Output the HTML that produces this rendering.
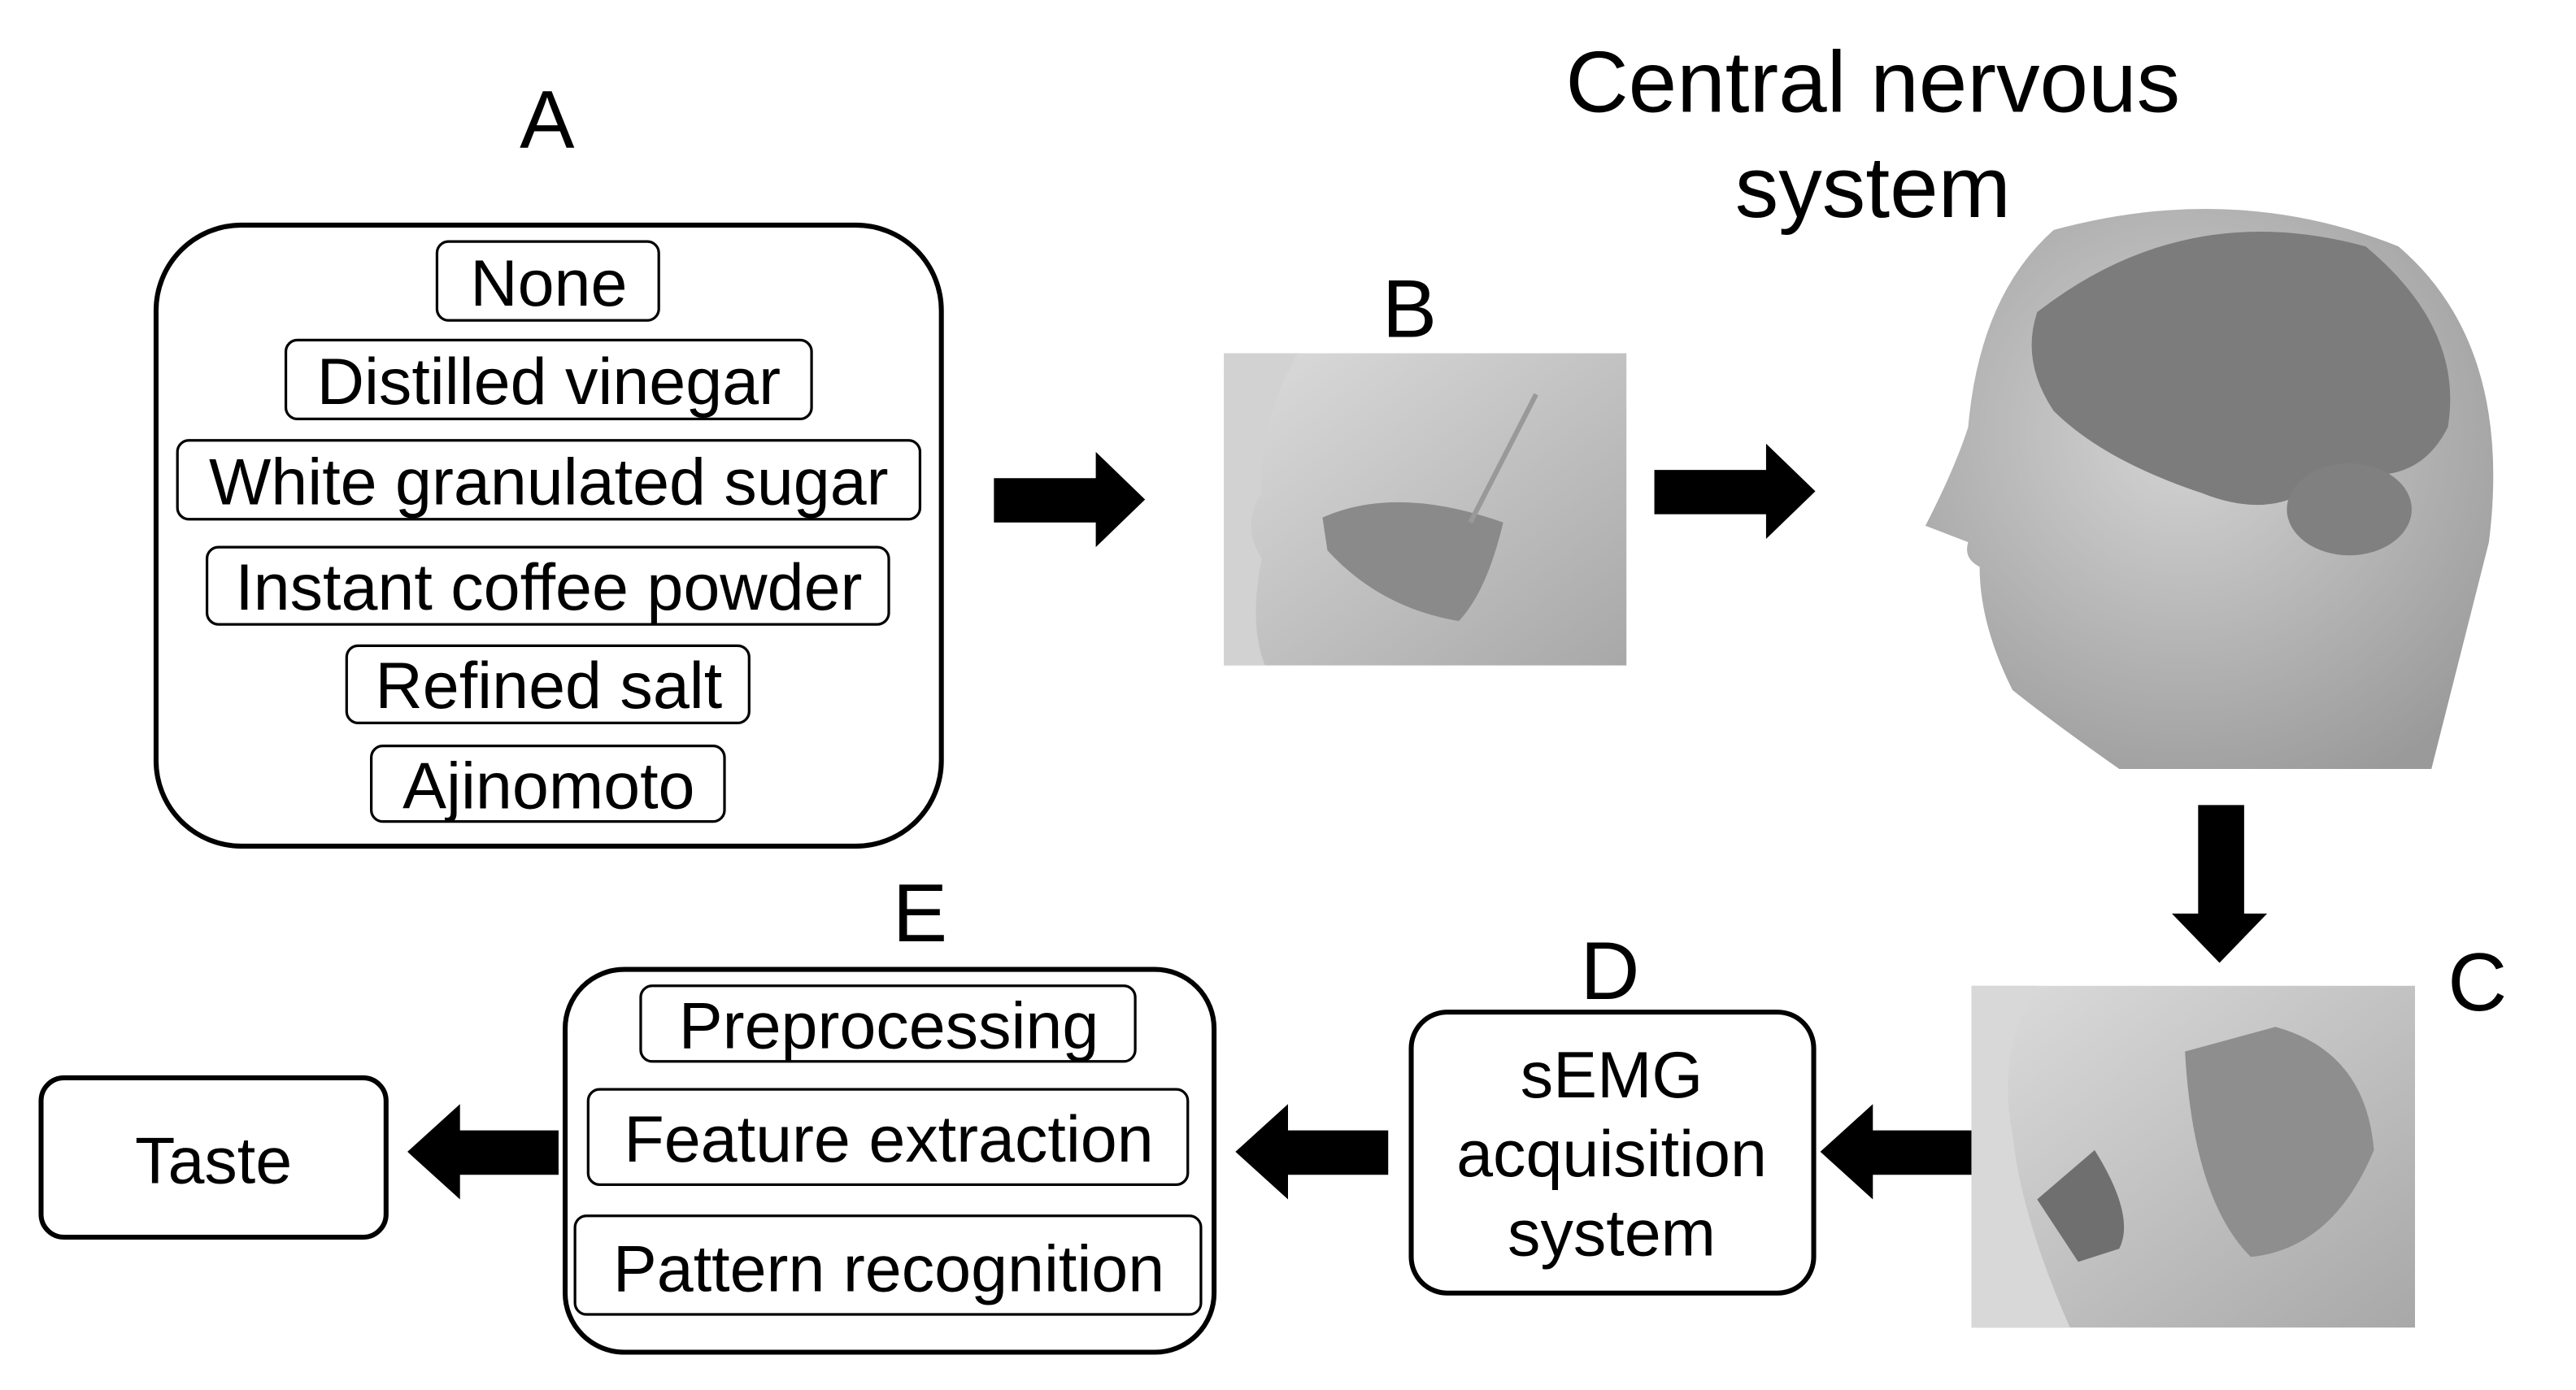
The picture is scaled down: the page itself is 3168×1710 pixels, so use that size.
<!DOCTYPE html>
<html><head><meta charset="utf-8"><style>
html,body{margin:0;padding:0;background:#fff;}
svg{display:block;}
text{font-family:"Liberation Sans",sans-serif;fill:#000;}
</style></head><body>
<svg width="3168" height="1710" viewBox="0 0 1568 846" preserveAspectRatio="none" xmlns="http://www.w3.org/2000/svg">
<defs>
<linearGradient id="g1" x1="0" y1="0" x2="1" y2="1"><stop offset="0" stop-color="#dcdcdc"/><stop offset="1" stop-color="#a8a8a8"/></linearGradient>
<radialGradient id="g2" cx="0.45" cy="0.4" r="0.7"><stop offset="0" stop-color="#d4d4d4"/><stop offset="1" stop-color="#9a9a9a"/></radialGradient>
</defs>
<text x="333" y="90" font-size="50" text-anchor="middle">A</text>
<rect x="95" y="137" width="478" height="378" rx="52" fill="none" stroke="#000" stroke-width="3"/>
<g fill="#fff" stroke="#000" stroke-width="1.6">
<rect x="266" y="147" width="135" height="48" rx="7"/>
<rect x="174" y="207" width="320" height="48" rx="7"/>
<rect x="108" y="268" width="452" height="48" rx="7"/>
<rect x="126" y="333" width="415" height="47" rx="7"/>
<rect x="211" y="393" width="245" height="47" rx="7"/>
<rect x="226" y="454" width="215" height="46" rx="7"/>
</g>
<g font-size="40" text-anchor="middle">
<text x="334" y="186">None</text>
<text x="334" y="246">Distilled vinegar</text>
<text x="334" y="307">White granulated sugar</text>
<text x="334" y="371">Instant coffee powder</text>
<text x="334" y="431">Refined salt</text>
<text x="334" y="492">Ajinomoto</text>
</g>
<polygon points="605,291 667,291 667,275 697,304 667,333 667,318 605,318" fill="#000"/>
<polygon points="1007,286 1075,286 1075,270 1105,299 1075,328 1075,313 1007,313" fill="#000"/>
<polygon points="1338,490 1366,490 1366,556 1380,556 1351,586 1322,556 1338,556" fill="#000"/>
<polygon points="1200,688 1140,688 1140,672 1108,701 1140,730 1140,715 1200,715" fill="#000"/>
<polygon points="845,688 784,688 784,672 752,701 784,730 784,715 845,715" fill="#000"/>
<polygon points="340,688 280,688 280,672 248,701 280,730 280,715 340,715" fill="#000"/>
<text x="858" y="205" font-size="50" text-anchor="middle">B</text>
<rect x="745" y="215" width="245" height="190" fill="url(#g1)"/>
<path d="M745,215 L790,215 Q765,260 768,300 Q755,320 768,340 Q760,380 770,405 L745,405 Z" fill="#d2d2d2"/>
<path d="M805,315 Q850,295 915,318 Q905,360 888,378 Q840,370 808,335 Z" fill="#8a8a8a"/>
<line x1="895" y1="318" x2="935" y2="240" stroke="#999" stroke-width="3"/>
<text x="1140" y="68" font-size="53" text-anchor="middle">Central nervous</text>
<text x="1140" y="132" font-size="53" text-anchor="middle">system</text>
<path d="M1250,140 Q1360,110 1460,150 Q1530,210 1515,330 L1480,468 L1290,468 Q1250,440 1225,420 Q1205,380 1205,345 Q1195,340 1198,330 L1172,320 Q1190,285 1198,260 Q1205,180 1250,140 Z" fill="url(#g2)"/>
<path d="M1240,190 Q1330,120 1440,150 Q1500,200 1490,260 Q1470,300 1420,285 Q1390,320 1340,300 Q1280,280 1250,250 Q1230,220 1240,190 Z" fill="#7c7c7c"/>
<ellipse cx="1430" cy="310" rx="38" ry="28" fill="#808080"/>
<text x="1508" y="615" font-size="50" text-anchor="middle">C</text>
<rect x="1200" y="600" width="270" height="208" fill="url(#g1)"/>
<path d="M1200,600 L1240,600 Q1215,640 1225,690 Q1230,740 1260,808 L1200,808 Z" fill="#d8d8d8"/>
<path d="M1330,640 L1385,625 Q1440,640 1445,700 Q1420,760 1370,765 Q1335,730 1330,640 Z" fill="#8e8e8e"/>
<path d="M1240,730 L1275,700 Q1300,740 1290,760 L1265,768 Z" fill="#6f6f6f"/>
<text x="980" y="608" font-size="50" text-anchor="middle">D</text>
<rect x="859" y="616" width="245" height="171" rx="22" fill="none" stroke="#000" stroke-width="3"/>
<g font-size="40" text-anchor="middle">
<text x="981" y="668">sEMG</text>
<text x="981" y="716">acquisition</text>
<text x="981" y="764">system</text>
</g>
<text x="560" y="573" font-size="50" text-anchor="middle">E</text>
<rect x="344" y="590" width="395" height="233" rx="36" fill="none" stroke="#000" stroke-width="3"/>
<g fill="#fff" stroke="#000" stroke-width="1.6">
<rect x="390" y="600" width="301" height="46" rx="7"/>
<rect x="358" y="663" width="365" height="58" rx="7"/>
<rect x="350" y="740" width="381" height="60" rx="7"/>
</g>
<g font-size="40" text-anchor="middle">
<text x="541" y="638">Preprocessing</text>
<text x="541" y="707">Feature extraction</text>
<text x="541" y="786">Pattern recognition</text>
</g>
<rect x="25" y="656" width="210" height="97" rx="14" fill="none" stroke="#000" stroke-width="3"/>
<text x="130" y="720" font-size="40" text-anchor="middle">Taste</text>
</svg>
</body></html>
